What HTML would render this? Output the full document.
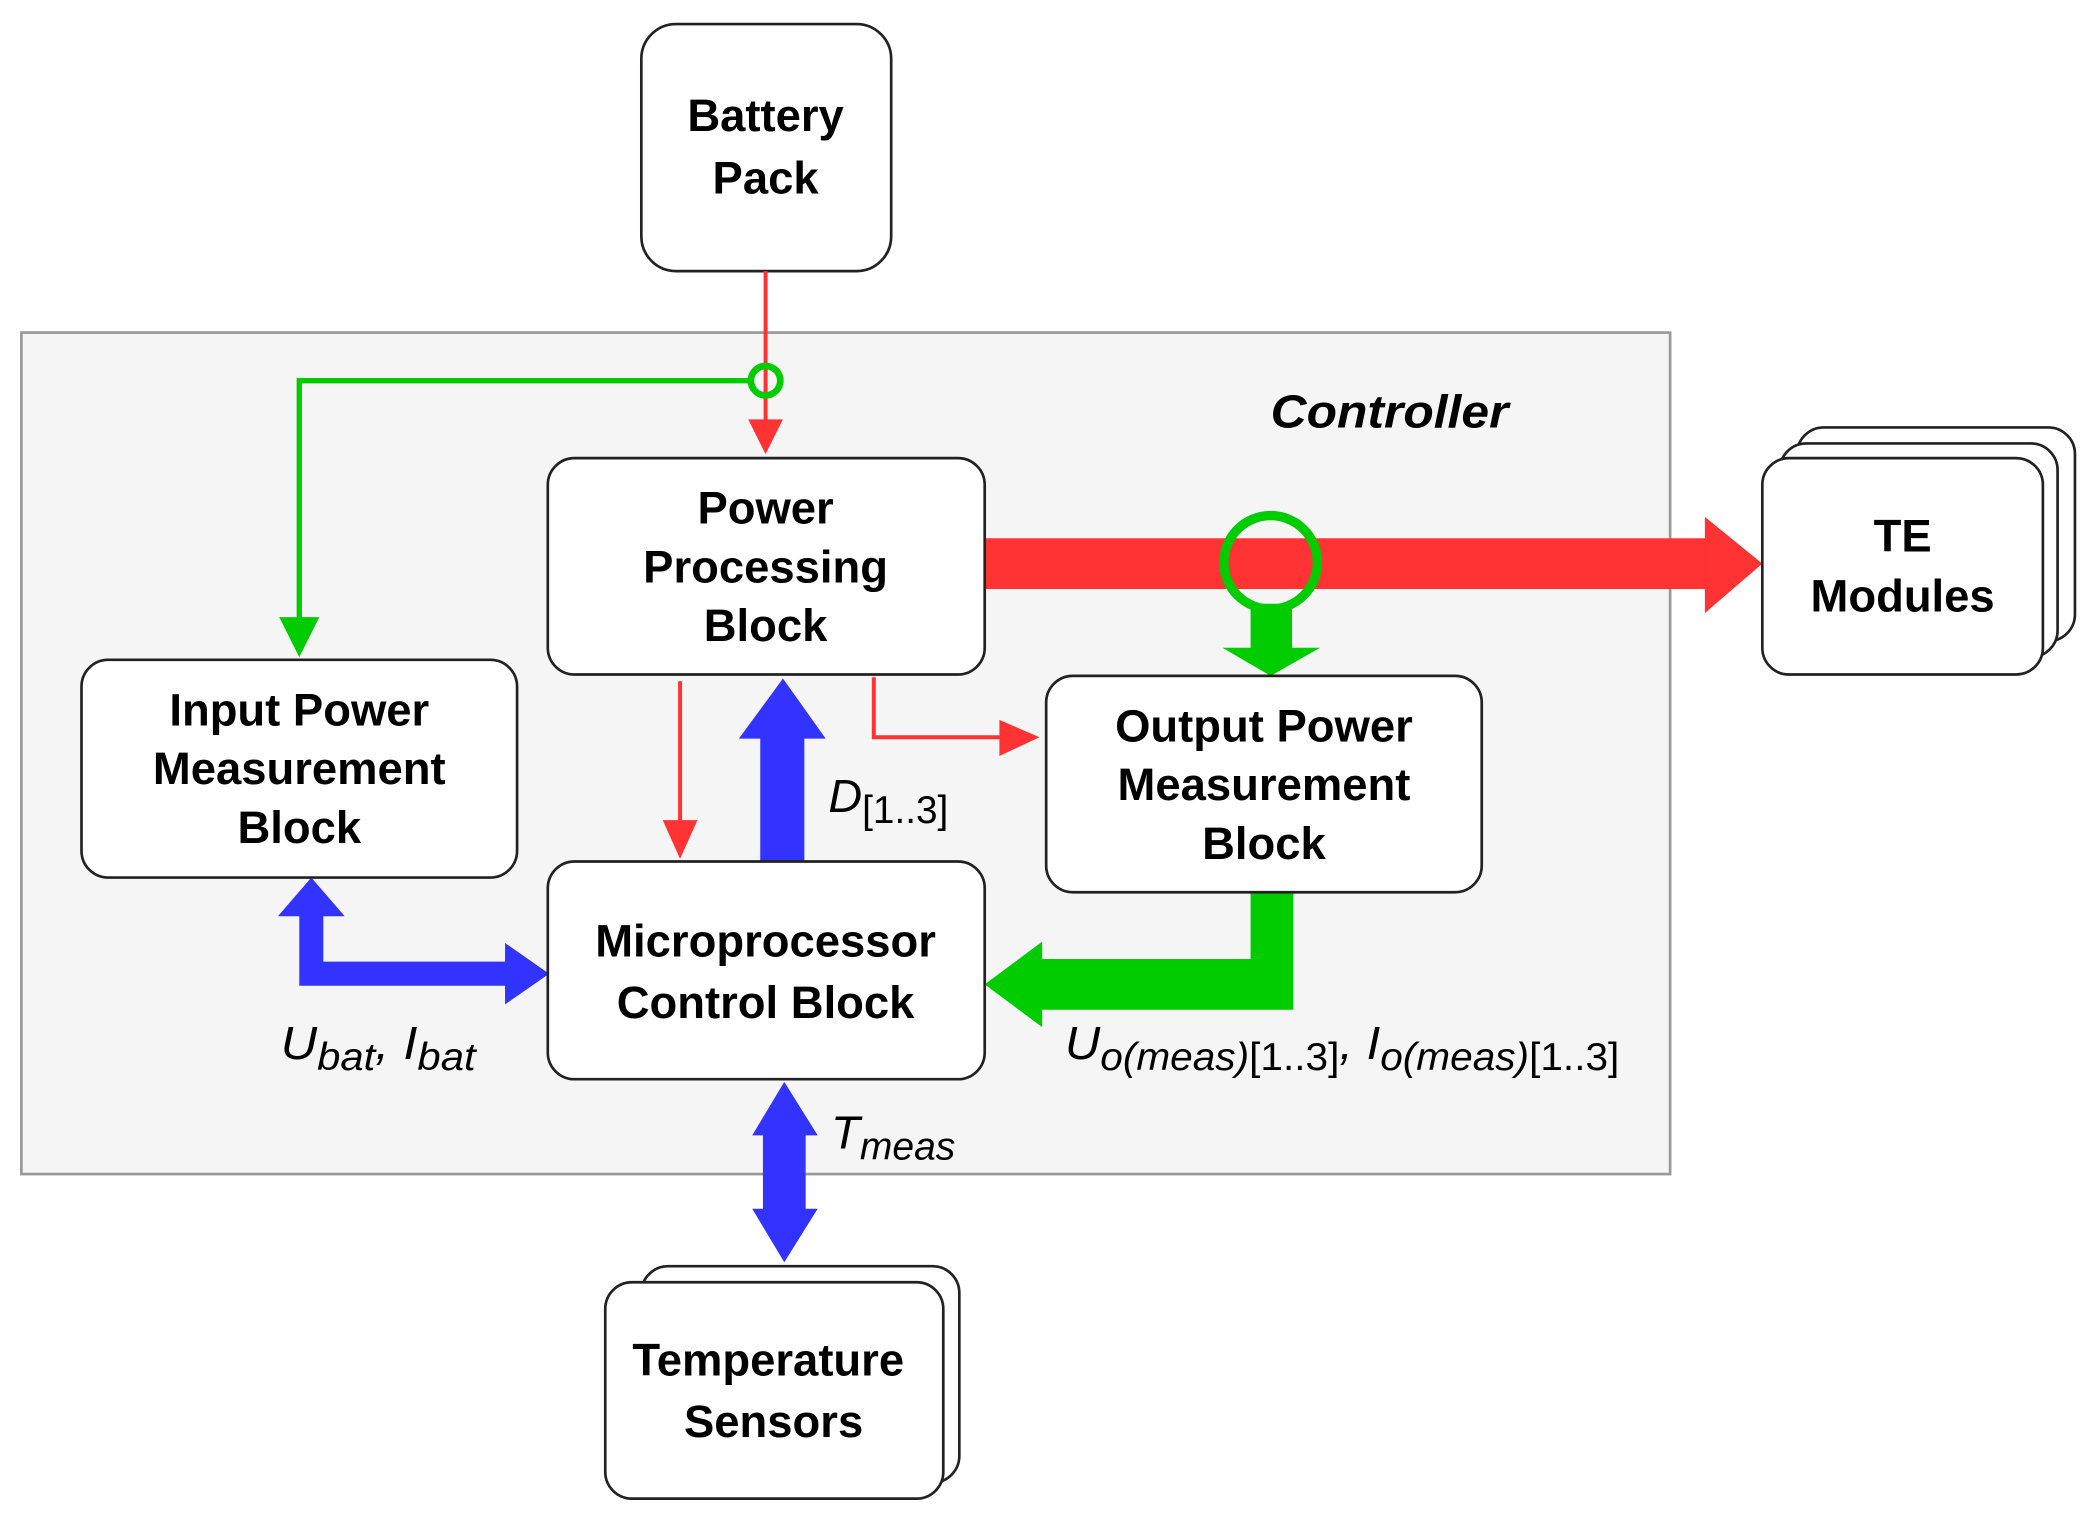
<!DOCTYPE html>
<html><head><meta charset="utf-8"><style>
html,body{margin:0;padding:0;background:#fff;}
svg{display:block;}
text{font-family:"Liberation Sans",Arial,sans-serif;}
.b{font-weight:bold;font-size:34px;text-anchor:middle;fill:#000;}
.i{font-style:italic;font-size:35px;fill:#000;}
.s{font-size:29px;}
</style></head><body>
<svg width="2095" height="1520" viewBox="0 0 1568 1138" preserveAspectRatio="none" xmlns="http://www.w3.org/2000/svg">
<rect x="0" y="0" width="1568" height="1138" fill="#fff"/>
<rect x="16" y="249" width="1234" height="630" fill="#f5f5f5" stroke="#999" stroke-width="2"/>
<text x="1040" y="320" class="i" font-weight="bold" text-anchor="middle" textLength="178" lengthAdjust="spacingAndGlyphs">Controller</text>

<rect x="480" y="18" width="187" height="185" rx="26" fill="#fff" stroke="#222" stroke-width="2"/>
<text x="573" y="98" class="b">Battery</text>
<text x="573" y="145" class="b">Pack</text>

<line x1="573" y1="203" x2="573" y2="320" stroke="#ff3333" stroke-width="3"/>
<polygon points="560,314 586,314 573,340" fill="#ff3333"/>
<polyline points="562,285 224,285 224,470" fill="none" stroke="#00cc00" stroke-width="4"/>
<polygon points="209,462 239,462 224,492" fill="#00cc00"/>
<circle cx="573" cy="285" r="11" fill="none" stroke="#00cc00" stroke-width="5"/>

<rect x="737" y="403" width="545" height="38" fill="#ff3333"/>
<polygon points="1276,387 1319,422 1276,459" fill="#ff3333"/>
<circle cx="951" cy="421" r="35" fill="none" stroke="#00cc00" stroke-width="7"/>
<rect x="936" y="452" width="31" height="34" fill="#00cc00"/>
<polygon points="915,485 988,485 951,506" fill="#00cc00"/>

<line x1="509" y1="510" x2="509" y2="620" stroke="#ff3333" stroke-width="3"/>
<polygon points="496,614 522,614 509,643" fill="#ff3333"/>
<polyline points="654,507 654,552 755,552" fill="none" stroke="#ff3333" stroke-width="3"/>
<polygon points="748,539 778,552 748,566" fill="#ff3333"/>

<rect x="569" y="548" width="33" height="98" fill="#3333ff"/>
<polygon points="553,553 618,553 586,508" fill="#3333ff"/>
<text x="620" y="608" class="i">D<tspan class="s" font-style="normal" dy="8">[1..3]</tspan></text>

<polyline points="233,682 233,729 382,729" fill="none" stroke="#3333ff" stroke-width="18"/>
<polygon points="208,686 258,686 233,657" fill="#3333ff"/>
<polygon points="378,706 411,729 378,752" fill="#3333ff"/>
<text x="210" y="793" class="i" textLength="146" lengthAdjust="spacingAndGlyphs">U<tspan class="s" dy="8">bat</tspan><tspan dy="-8">, I</tspan><tspan class="s" dy="8">bat</tspan></text>

<polygon points="936,668 968,668 968,756 775,756 775,718 936,718" fill="#00cc00"/>
<polygon points="780,705 737,737 780,769" fill="#00cc00"/>
<text x="797" y="793" class="i" textLength="415" lengthAdjust="spacingAndGlyphs">U<tspan class="s" dy="8">o(meas)</tspan><tspan font-style="normal" class="s">[1..3]</tspan><tspan dy="-8">, I</tspan><tspan class="s" dy="8">o(meas)</tspan><tspan font-style="normal" class="s">[1..3]</tspan></text>

<rect x="571" y="845" width="32" height="65" fill="#3333ff"/>
<polygon points="563,850 612,850 587,810" fill="#3333ff"/>
<polygon points="563,905 612,905 587,945" fill="#3333ff"/>
<text x="622" y="860" class="i" textLength="93" lengthAdjust="spacingAndGlyphs">T<tspan class="s" dy="8">meas</tspan></text>

<rect x="410" y="343" width="327" height="162" rx="20" fill="#fff" stroke="#222" stroke-width="2"/>
<text x="573" y="392" class="b">Power</text>
<text x="573" y="436" class="b">Processing</text>
<text x="573" y="480" class="b">Block</text>

<rect x="61" y="494" width="326" height="163" rx="20" fill="#fff" stroke="#222" stroke-width="2"/>
<text x="224" y="543" class="b">Input Power</text>
<text x="224" y="587" class="b">Measurement</text>
<text x="224" y="631" class="b">Block</text>

<rect x="410" y="645" width="327" height="163" rx="20" fill="#fff" stroke="#222" stroke-width="2"/>
<text x="573" y="716" class="b">Microprocessor</text>
<text x="573" y="762" class="b">Control Block</text>

<rect x="783" y="506" width="326" height="162" rx="20" fill="#fff" stroke="#222" stroke-width="2"/>
<text x="946" y="555" class="b">Output Power</text>
<text x="946" y="599" class="b">Measurement</text>
<text x="946" y="643" class="b">Block</text>

<rect x="1345" y="320" width="208" height="160" rx="20" fill="#fff" stroke="#222" stroke-width="2"/>
<rect x="1332" y="332" width="208" height="160" rx="20" fill="#fff" stroke="#222" stroke-width="2"/>
<rect x="1319" y="343" width="210" height="162" rx="20" fill="#fff" stroke="#222" stroke-width="2"/>
<text x="1424" y="413" class="b">TE</text>
<text x="1424" y="458" class="b">Modules</text>

<rect x="480" y="948" width="238" height="162" rx="20" fill="#fff" stroke="#222" stroke-width="2"/>
<rect x="453" y="960" width="253" height="162" rx="20" fill="#fff" stroke="#222" stroke-width="2"/>
<text x="575" y="1030" class="b">Temperature</text>
<text x="579" y="1076" class="b">Sensors</text>
</svg>
</body></html>
